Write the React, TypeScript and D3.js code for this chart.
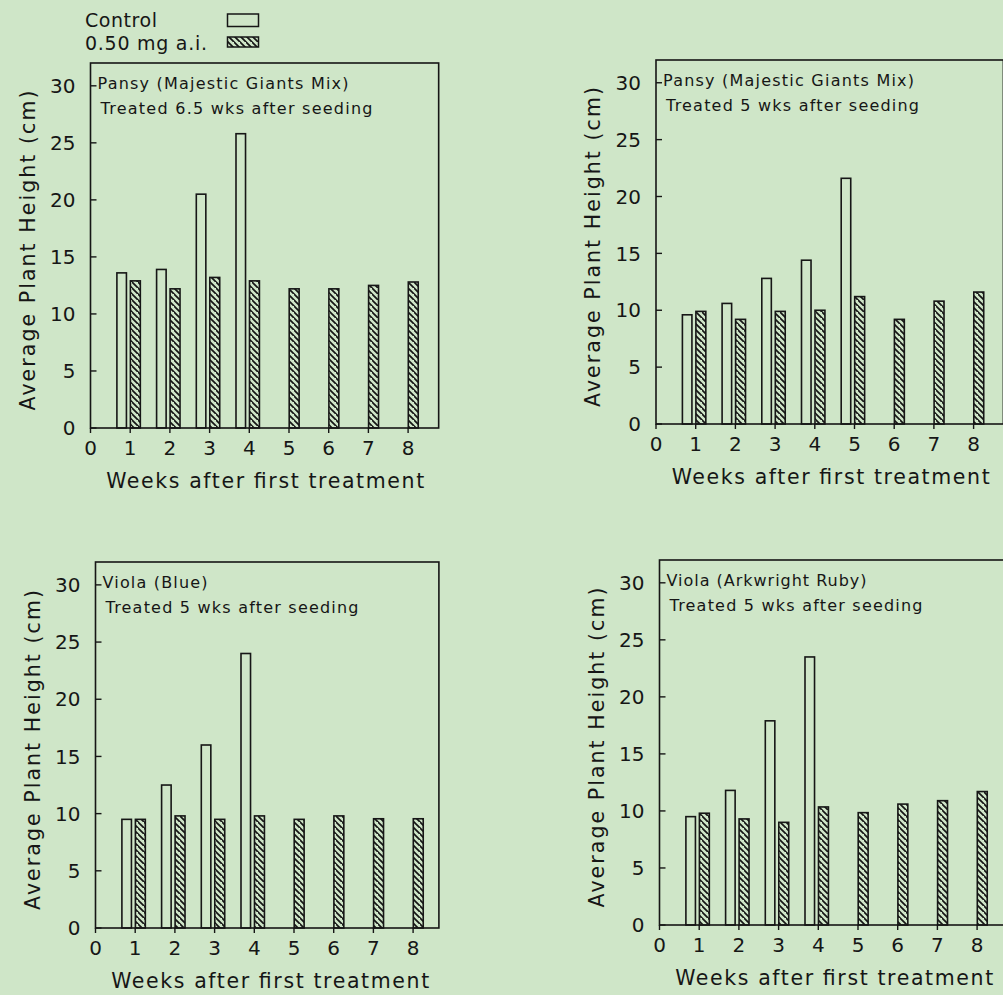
import React from 'react';
import * as d3 from 'd3';

// ---------- data ----------
const weeks = [1, 2, 3, 4, 5, 6, 7, 8];
const yTickValues = [0, 5, 10, 15, 20, 25, 30];
const xTickValues = [0, 1, 2, 3, 4, 5, 6, 7, 8];

const panelTitles = [
  'Pansy (Majestic Giants Mix)',
  'Pansy (Majestic Giants Mix)',
  'Viola (Blue)',
  'Viola (Arkwright Ruby)',
];
const panelSubtitles = [
  'Treated 6.5 wks after seeding',
  'Treated 5 wks after seeding',
  'Treated 5 wks after seeding',
  'Treated 5 wks after seeding',
];

const pansy65Control: (number | null)[] = [13.6, 13.9, 20.5, 25.8, null, null, null, null];
const pansy65Treated = [12.9, 12.2, 13.2, 12.9, 12.2, 12.2, 12.5, 12.8];
const pansy5Control: (number | null)[] = [9.6, 10.6, 12.8, 14.4, 21.6, null, null, null];
const pansy5Treated = [9.9, 9.2, 9.9, 10.0, 11.2, 9.2, 10.8, 11.6];
const violaBlueControl: (number | null)[] = [9.5, 12.5, 16.0, 24.0, null, null, null, null];
const violaBlueTreated = [9.5, 9.8, 9.5, 9.8, 9.5, 9.8, 9.55, 9.55];
const violaRubyControl: (number | null)[] = [9.5, 11.8, 17.9, 23.5, null, null, null, null];
const violaRubyTreated = [9.8, 9.3, 9.0, 10.35, 9.85, 10.6, 10.9, 11.7];

const controlSeries = [pansy65Control, pansy5Control, violaBlueControl, violaRubyControl];
const treatedSeries = [pansy65Treated, pansy5Treated, violaBlueTreated, violaRubyTreated];

const legendLabels = ['Control', '0.50 mg a.i.'];
const xAxisTitle = 'Weeks after first treatment';
const yAxisTitle = 'Average Plant Height (cm)';

// ---------- layout ----------
const W = 1003;
const H = 995;
const BG = '#cfe6c8';
const INK = '#161616';
const FONT = '"DejaVu Sans", sans-serif';
const UNIT = 39.7;

const layouts = [
  { left: 90.5, top: 63, bottom: 428, xMax: 8.77, titleLen: 251, subLen: 272 },
  { left: 656, top: 60, bottom: 424, xMax: 8.75, titleLen: 251, subLen: 253 },
  { left: 95.5, top: 562, bottom: 928, xMax: 8.65, titleLen: 105, subLen: 253 },
  { left: 659.5, top: 560, bottom: 925, xMax: 8.75, titleLen: 200, subLen: 253 },
];

function Panel({ i }: { i: number }) {
  const L = layouts[i];
  const x = d3.scaleLinear().domain([0, L.xMax]).range([L.left, L.left + L.xMax * UNIT]);
  const y = d3.scaleLinear().domain([0, 32]).range([L.bottom, L.top]);
  const ctrl = controlSeries[i];
  const trt = treatedSeries[i];
  const right = x(L.xMax);
  return (
    <g>
      {/* bars */}
      {weeks.map((w, k) => {
        const v = ctrl[k];
        if (v == null) return null;
        return (
          <rect
            key={'c' + k}
            x={x(w - 0.335)}
            y={y(v)}
            width={x(w - 0.095) - x(w - 0.335)}
            height={y(0) - y(v)}
            fill={BG}
            stroke={INK}
            strokeWidth={1.6}
          />
        );
      })}
      {weeks.map((w, k) => {
        const v = trt[k];
        return (
          <rect
            key={'t' + k}
            x={x(w + 0.005)}
            y={y(v)}
            width={x(w + 0.255) - x(w + 0.005)}
            height={y(0) - y(v)}
            fill="url(#hatch)"
            stroke={INK}
            strokeWidth={1.6}
          />
        );
      })}
      {/* frame */}
      <rect
        x={L.left}
        y={L.top}
        width={right - L.left}
        height={L.bottom - L.top}
        fill="none"
        stroke={INK}
        strokeWidth={1.6}
      />
      {/* y ticks (inside) */}
      {yTickValues.map((t) => (
        <g key={'y' + t}>
          <line x1={L.left} x2={L.left + 6} y1={y(t)} y2={y(t)} stroke={INK} strokeWidth={1.4} />
          <text
            x={L.left - 15}
            y={y(t)}
            dy="0.36em"
            textAnchor="end"
            fontSize={20}
            fontFamily={FONT}
            fill={INK}
          >
            {t}
          </text>
        </g>
      ))}
      {/* x ticks (outside) */}
      {xTickValues.map((t) => (
        <g key={'x' + t}>
          <line x1={x(t)} x2={x(t)} y1={L.bottom} y2={L.bottom + 5} stroke={INK} strokeWidth={1.4} />
          <text
            x={x(t)}
            y={L.bottom + 27}
            textAnchor="middle"
            fontSize={20}
            fontFamily={FONT}
            fill={INK}
          >
            {t}
          </text>
        </g>
      ))}
      {/* titles */}
      <text
        x={L.left + 7}
        y={y(30) + 3}
        fontSize={16}
        fontFamily={FONT}
        fill={INK}
        textLength={L.titleLen}
        lengthAdjust="spacing"
      >
        {panelTitles[i]}
      </text>
      <text
        x={L.left + 10}
        y={y(30) + 28}
        fontSize={16}
        fontFamily={FONT}
        fill={INK}
        textLength={L.subLen}
        lengthAdjust="spacing"
      >
        {panelSubtitles[i]}
      </text>
      {/* axis titles */}
      <text
        x={x(4.4)}
        y={L.bottom + 60}
        textAnchor="middle"
        fontSize={20.5}
        fontFamily={FONT}
        fill={INK}
        textLength={318}
        lengthAdjust="spacing"
      >
        {xAxisTitle}
      </text>
      <text
        transform={`translate(${L.left - 56},${(L.top + L.bottom) / 2 + 5}) rotate(-90)`}
        textAnchor="middle"
        fontSize={20.5}
        fontFamily={FONT}
        fill={INK}
        textLength={320}
        lengthAdjust="spacing"
      >
        {yAxisTitle}
      </text>
    </g>
  );
}

export default function App() {
  React.useEffect(() => {
    document.body.style.margin = '0';
    document.body.style.background = BG;
  }, []);
  return (
    <svg
      width={W}
      height={H}
      viewBox={`0 0 ${W} ${H}`}
      style={{ position: 'absolute', left: 0, top: 0, display: 'block' }}
    >
      <defs>
        <pattern id="hatch" patternUnits="userSpaceOnUse" width={6} height={6}>
          <rect width={6} height={6} fill={BG} />
          <path d="M-1,-1 L7,7 M-4,2 L2,8 M4,-4 L10,2" stroke={INK} strokeWidth={1.7} />
        </pattern>
      </defs>
      <rect width={W} height={H} fill={BG} />
      {/* legend */}
      <text x={85} y={27} fontSize={19} fontFamily={FONT} fill={INK} textLength={72} lengthAdjust="spacing">
        {legendLabels[0]}
      </text>
      <text x={85} y={50} fontSize={19} fontFamily={FONT} fill={INK} textLength={122} lengthAdjust="spacing">
        {legendLabels[1]}
      </text>
      <rect x={227.5} y={14} width={31} height={12.5} fill={BG} stroke={INK} strokeWidth={1.5} />
      <rect x={227.5} y={37} width={31} height={10} fill="url(#hatch)" stroke={INK} strokeWidth={1.5} />
      {layouts.map((_, i) => (
        <Panel key={i} i={i} />
      ))}
    </svg>
  );
}
